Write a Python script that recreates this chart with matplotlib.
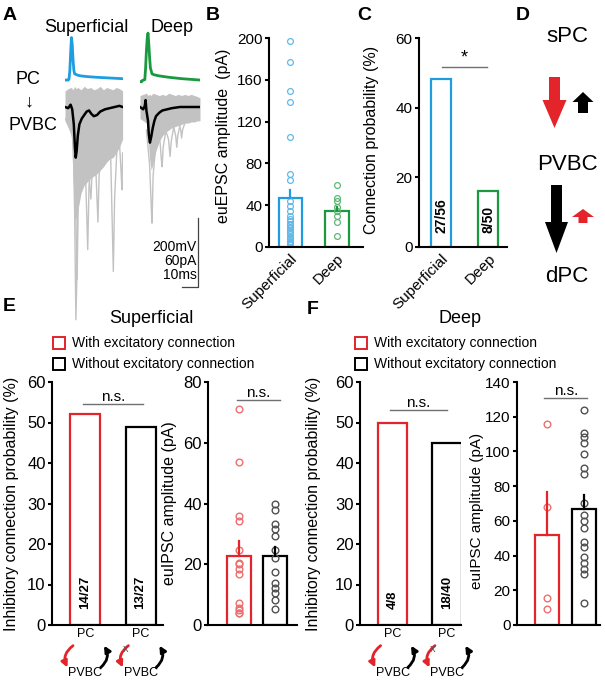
import matplotlib
matplotlib.use("Agg")
import matplotlib.pyplot as plt
from matplotlib import transforms
from matplotlib.patches import Rectangle

plt.rcParams['font.family'] = ['Liberation Sans', 'DejaVu Sans']

# ---------------- data ----------------
# panel A: example traces (time in ms, current in pA, voltage in mV)
sup_ap_t = [0, 2, 2.5, 3, 3.5, 4, 4.5, 5, 5.5, 6, 7, 8, 10, 14, 20, 28, 36]
sup_ap = [-68, -68, -65, -40, 10, 55, 35, -10, -40, -50, -52, -54, -56, -58, -60, -62, -64]
deep_ap_t = [0, 1, 1.5, 3, 3.5, 4, 4.5, 5, 5.5, 6, 6.5, 7.5, 9, 12, 18, 26, 37.5]
deep_ap = [-70, -70, -66, -64, -30, 20, 55, 71, 40, 0, -30, -47, -50, -53, -57, -61, -65]

sup_t = [0, 2, 4, 5, 6, 7, 8, 10, 12, 14, 16, 18, 20, 22, 24, 26, 28, 30, 32, 34, 36]
sup_upper = [14, 16, 17, 15, 18, 16, 17, 15, 18, 16, 17, 15, 16, 18, 15, 17, 16, 15, 17, 16, 14]
sup_lower = [-12, -18, -25, -60, -95, -98, -90, -75, -68, -65, -62, -60, -58, -55, -52,
             -48, -45, -44, -40, -35, -28]
sup_mean_t = [0, 2, 3.5, 4.5, 5.5, 6.2, 6.7, 7.3, 8, 9, 10.5, 12, 13.5, 15, 16.5, 18, 20,
              22, 25, 28, 31, 34, 36]
sup_mean = [0, -1, 2, -2, -15, -35, -44, -38, -25, -15, -10, -7, -4, -3, -6, -8, -7, -4,
            -2, -1, 0, 1, 0]
sup_sweeps = [
    ([0, 5, 6, 6.8, 7.4, 8.2, 10, 12], [-10, -20, -90, -185, -150, -60, -35, -30]),
    ([4, 6, 7, 7.6, 8.3, 10], [-20, -40, -110, -150, -70, -40]),
    ([10, 12.5, 13.5, 14.2, 15, 16.5], [-30, -40, -90, -124, -70, -40]),
    ([12, 14.5, 15.5, 16.2, 17, 18.5], [-35, -45, -70, -80, -55, -40]),
    ([17, 19, 20, 20.6, 21.3, 23], [-30, -45, -80, -100, -60, -35]),
    ([26, 28.5, 29.5, 30.2, 31, 32.5], [-25, -40, -100, -143, -80, -35]),
    ([32, 34, 35, 35.6, 36], [-25, -30, -55, -72, -40]),
]

deep_t = [0, 2, 4, 5, 6, 7, 8, 10, 12, 14, 16, 18, 20, 22, 24, 26, 28, 30, 32, 34, 36, 37.5]
deep_upper = [10, 11, 12, 10, 11, 10, 12, 11, 10, 11, 10, 12, 11, 10, 11, 10, 11, 10, 11, 10, 9, 8]
deep_lower = [-10, -12, -14, -25, -45, -55, -50, -38, -30, -25, -22, -20, -18, -17, -16,
              -15, -14, -14, -13, -13, -12, -12]
deep_mean_t = [0, 2, 3, 3.5, 4, 5, 5.5, 6.2, 7, 8, 9, 10, 12, 14, 17, 20, 25, 30, 37.5]
deep_mean = [0, -2, 1, 6, -3, -12, -24, -31, -26, -18, -12, -8, -5, -3, -2, -1, 0, 0, 0]
deep_sweeps = [
    ([4, 6, 7, 7.5, 8.2, 10], [-20, -50, -85, -101, -60, -30]),
    ([10, 12.5, 13.3, 13.8, 14.5, 16], [-25, -30, -45, -52, -35, -22]),
    ([16, 17.8, 18.8, 19.5, 21], [-20, -28, -43, -30, -18]),
    ([21, 22.3, 23, 23.6, 25], [-17, -25, -35, -25, -16]),
    ([24.5, 25.5, 26, 26.6, 28], [-16, -20, -27, -20, -14]),
]

# panel B: euEPSC amplitude (pA)
layers = ['Superficial', 'Deep']
epsc_sup = [197, 177, 149, 139, 105, 70, 64, 44, 39, 34, 30, 27, 25, 22, 21, 19, 18, 16,
            14, 12, 10, 9, 8, 6, 5, 4, 3]
epsc_deep = [59, 47, 44, 38, 34, 30, 24, 11]
epsc_mean = [47, 34]
epsc_sem = [8, 4]

# panel C: connection probability (%)
conn_prob = [48.2, 16.0]
conn_counts = ['27/56', '8/50']

# panel E: superficial
e_prob = [52, 49]
e_counts = ['14/27', '13/27']
e_amp_with = [71, 53.7, 36, 34.3, 24.7, 20.3, 20, 18.3, 16.8, 7.1, 5.5, 5, 4, 3.8]
e_amp_without = [40, 38, 33.2, 31.5, 29.4, 24.7, 21.9, 17.5, 13.7, 12.1, 10.4, 8.2, 5.2]
e_amp_mean = [22.6, 22.8]
e_amp_sem = [5.2, 3.0]

# panel F: deep
f_prob = [50, 45]
f_counts = ['4/8', '18/40']
f_amp_with = [116, 67.7, 15.4, 9.1]
f_amp_without = [123.7, 110.6, 108.4, 104.9, 98.8, 90.7, 86.9, 70.4, 63.3, 60, 55.6, 47.9,
                 45.1, 39.3, 35.9, 32.0, 29.3, 12.5]
f_amp_mean = [51.8, 67]
f_amp_sem = [24.9, 8]

BLUE = '#1f9de0'
BLUE_DOT = '#62b9ea'
GREEN = '#1a9a40'
GREEN_DOT = '#5cb874'
RED = '#e3242b'
RED_DOT = '#ec6f6f'
GRAY_DOT = '#505050'
TRACE_GRAY = '#c2c2c2'

W, H = 605, 681
fig = plt.figure(figsize=(W / 100, H / 100), dpi=100)


def px_axes(left, top, right, bottom):
    return fig.add_axes([left / W, 1 - bottom / H, (right - left) / W, (bottom - top) / H])


def fig_text(x, y, s, **kw):
    fig.text(x / W, 1 - y / H, s, **kw)


def style_axes(ax, size):
    for s in ['top', 'right']:
        ax.spines[s].set_visible(False)
    for s in ['left', 'bottom']:
        ax.spines[s].set_linewidth(1.5)
    ax.tick_params(axis='y', direction='out', length=3, width=1.5, pad=1.5, labelsize=size)
    ax.tick_params(axis='x', length=0, labelsize=size)


def sig_line(ax, x0, x1, y, label, size):
    ax.plot([x0, x1], [y, y], color='#707070', lw=1, clip_on=False)
    ax.text((x0 + x1) / 2, y, label, ha='center', va='bottom', fontsize=size)


# ---------------- panel A ----------------
ax = px_axes(65, 29, 123, 82.5)
ax.plot(sup_ap_t, sup_ap, color=BLUE, lw=2)
ax.set_xlim(0, 36)
ax.set_ylim(-75, 80)
ax.axis('off')

ax = px_axes(140, 30, 200, 83.5)
ax.plot(deep_ap_t, deep_ap, color=GREEN, lw=2)
ax.set_xlim(0, 37.5)
ax.set_ylim(-75, 80)
ax.axis('off')

ax = px_axes(65, 84, 122.6, 325.5)
ax.fill_between(sup_t, sup_lower, sup_upper, color=TRACE_GRAY, lw=0)
for t, y in sup_sweeps:
    ax.plot(t, y, color=TRACE_GRAY, lw=1)
ax.plot(sup_mean_t, sup_mean, color='black', lw=1.8)
ax.set_xlim(0, 36)
ax.set_ylim(-190, 20)
ax.axis('off')

ax = px_axes(140, 84, 200, 325.5)
ax.fill_between(deep_t, deep_lower, deep_upper, color=TRACE_GRAY, lw=0)
for t, y in deep_sweeps:
    ax.plot(t, y, color=TRACE_GRAY, lw=1)
ax.plot(deep_mean_t, deep_mean, color='black', lw=1.8)
ax.set_xlim(0, 37.5)
ax.set_ylim(-190, 20)
ax.axis('off')
# scale bar: 60 pA, 10 ms
ax.plot([36.25, 36.25, 26.25], [-96.5, -156.5, -156.5], color='#444444', lw=0.9, clip_on=False)
for yy, s in zip([-122, -134, -146], ['200mV', '60pA', '10ms']):
    ax.text(35.6, yy, s, ha='right', va='center', fontsize=10)

fig_text(86, 27, 'Superficial', ha='center', va='center', fontsize=13)
fig_text(172, 27, 'Deep', ha='center', va='center', fontsize=13)
fig_text(28, 80, 'PC', ha='center', va='center', fontsize=13)
fig_text(29, 102, '\u2193', ha='center', va='center', fontsize=13)
fig_text(33, 125, 'PVBC', ha='center', va='center', fontsize=13)

# ---------------- panel B ----------------
ax = px_axes(269, 38, 363, 247)
style_axes(ax, 11)
ax.bar([0, 1], epsc_mean, width=0.5, facecolor='none', edgecolor=[BLUE, GREEN], lw=1.6)
ax.plot([0] * len(epsc_sup), epsc_sup, 'o', mfc='none', mec=BLUE_DOT, ms=4.2, mew=0.9)
ax.plot([1] * len(epsc_deep), epsc_deep, 'o', mfc='none', mec=GREEN_DOT, ms=4.2, mew=0.9)
for i, c in enumerate([BLUE, GREEN]):
    ax.plot([i, i], [epsc_mean[i], epsc_mean[i] + epsc_sem[i]], color=c, lw=1.6)
ax.set_xlim(-0.46, 1.56)
ax.set_ylim(0, 200)
ax.set_yticks([0, 40, 80, 120, 160, 200])
ax.set_xticks([0, 1])
ax.set_xticklabels(layers, rotation=45, ha='right', rotation_mode='anchor')
ax.set_ylabel('euEPSC amplitude  (pA)', fontsize=11.5)
ax.yaxis.set_label_coords(-0.40, 0.53)

# ---------------- panel C ----------------
ax = px_axes(419, 38, 507, 247)
style_axes(ax, 11)
ax.bar([0, 1], conn_prob, width=0.43, facecolor='none', edgecolor=[BLUE, GREEN], lw=1.6)
for i, s in enumerate(conn_counts):
    ax.text(i, 4, s, rotation=90, ha='center', va='bottom', fontsize=10, fontweight='bold')
sig_line(ax, 0.02, 0.98, 51.7, '*', 13)
ax.set_xlim(-0.47, 1.40)
ax.set_ylim(0, 60)
ax.set_yticks([0, 20, 40, 60])
ax.set_xticks([0, 1])
ax.set_xticklabels(layers, rotation=45, ha='right', rotation_mode='anchor')
ax.set_ylabel('Connection probability (%)', fontsize=11.5)
ax.yaxis.set_label_coords(-0.45, 0.51)

# ---------------- panel D ----------------
ax = px_axes(510, 20, 605, 290)
ax.set_xlim(510, 605)
ax.set_ylim(290, 20)
ax.axis('off')
ax.arrow(554.5, 77, 0, 51, width=11, head_width=24, head_length=28,
         length_includes_head=True, color=RED, lw=0)
ax.arrow(583, 113, 0, -21, width=10, head_width=21, head_length=10,
         length_includes_head=True, color='black', lw=0)
ax.arrow(556.5, 185, 0, 68, width=11, head_width=23, head_length=31,
         length_includes_head=True, color='black', lw=0)
ax.arrow(583, 223, 0, -14, width=9, head_width=22, head_length=8,
         length_includes_head=True, color=RED, lw=0)
ax.text(567, 37, 'sPC', ha='center', va='center', fontsize=16)
ax.text(567, 165, 'PVBC', ha='center', va='center', fontsize=16)
ax.text(567, 277, 'dPC', ha='center', va='center', fontsize=16)


# ---------------- panels E / F ----------------
def prob_panel(rect, xlim, probs, counts, ns_x, ns_y):
    ax = px_axes(*rect)
    style_axes(ax, 12)
    ax.bar([0, 1], probs, width=0.54, facecolor='none', edgecolor=[RED, 'black'], lw=1.6)
    for i, s in enumerate(counts):
        ax.text(i, 4, s, rotation=90, ha='center', va='bottom', fontsize=9.5, fontweight='bold')
    sig_line(ax, ns_x[0], ns_x[1], ns_y, 'n.s.', 11)
    ax.set_xlim(*xlim)
    ax.set_ylim(0, 60)
    ax.set_yticks([0, 10, 20, 30, 40, 50, 60])
    ax.set_xticks([0, 1])
    ax.set_xticklabels(['PC', 'PC'], fontsize=9)
    ax.tick_params(axis='x', pad=2)
    ax.set_ylabel('Inhibitory connection probability (%)', fontsize=11.5)
    # connection icons under each bar
    tr = transforms.blended_transform_factory(ax.transData, ax.transAxes)
    for i in [0, 1]:
        ax.annotate('', xy=(i - 0.32, -0.175), xytext=(i - 0.22, -0.085), xycoords=tr,
                    textcoords=tr, annotation_clip=False,
                    arrowprops=dict(arrowstyle='-|>', color=RED, lw=2,
                                    connectionstyle='arc3,rad=0.4', mutation_scale=9,
                                    shrinkA=0, shrinkB=0))
        ax.annotate('', xy=(i + 0.34, -0.085), xytext=(i + 0.28, -0.175), xycoords=tr,
                    textcoords=tr, annotation_clip=False,
                    arrowprops=dict(arrowstyle='-|>', color='black', lw=2,
                                    connectionstyle='arc3,rad=0.4', mutation_scale=9,
                                    shrinkA=0, shrinkB=0))
        ax.text(i, -0.198, 'PVBC', transform=tr, ha='center', va='center', fontsize=9)
    ax.text(1 - 0.27, -0.1, 'x', transform=tr, ha='center', va='center', fontsize=8,
            color='#555555')
    return ax


def amp_panel(rect, xlim, ymax, yticks, with_vals, without_vals, means, sems, ns_x, ns_y,
              size=12):
    ax = px_axes(*rect)
    style_axes(ax, size)
    ax.bar([0, 1], means, width=0.66, facecolor='none', edgecolor=[RED, 'black'], lw=1.6)
    ax.plot([0] * len(with_vals), with_vals, 'o', mfc='none', mec=RED_DOT, ms=4.8, mew=1)
    ax.plot([1] * len(without_vals), without_vals, 'o', mfc='none', mec=GRAY_DOT, ms=4.8, mew=1)
    for i, c in enumerate([RED, 'black']):
        ax.plot([i, i], [means[i], means[i] + sems[i]], color=c, lw=1.6)
    sig_line(ax, ns_x[0], ns_x[1], ns_y, 'n.s.', 11)
    ax.set_xlim(*xlim)
    ax.set_ylim(0, ymax)
    ax.set_yticks(yticks)
    ax.set_xticks([])
    ax.set_ylabel('euIPSC amplitude (pA)', fontsize=11.5)
    return ax


ax = prob_panel((52, 382, 163, 625), (-0.6, 1.405), e_prob, e_counts, (-0.04, 1.05), 54.6)
ax.yaxis.set_label_coords(-0.30, 0.5)
ax = amp_panel((208, 382, 297, 625), (-0.86, 1.61), 80, [0, 20, 40, 60, 80],
               e_amp_with, e_amp_without, e_amp_mean, e_amp_sem, (-0.06, 1.14), 74)
ax.yaxis.set_label_coords(-0.35, 0.5)
ax = prob_panel((360, 382, 461, 625), (-0.6, 1.26), f_prob, f_counts, (-0.05, 1.0), 53)
ax.yaxis.set_label_coords(-0.39, 0.5)
ax = amp_panel((517, 382, 600, 625), (-0.82, 1.43), 140, [0, 20, 40, 60, 80, 100, 120, 140],
               f_amp_with, f_amp_without, f_amp_mean, f_amp_sem, (-0.08, 1.08), 130.6,
               size=11)
ax.set_ylabel('euIPSC amplitude (pA)', fontsize=11)
ax.yaxis.set_label_coords(-0.40, 0.47)

# titles and legends
fig_text(151, 318, 'Superficial', ha='center', va='center', fontsize=13)
fig_text(460, 318, 'Deep', ha='center', va='center', fontsize=13)
for x0 in [53, 355]:
    for yc, ec, s in [(342.5, RED, 'With excitatory connection'),
                      (364, 'black', 'Without excitatory connection')]:
        fig.add_artist(Rectangle((x0 / W, 1 - (yc + 6) / H), 12 / W, 12 / H,
                                 transform=fig.transFigure, facecolor='none',
                                 edgecolor=ec, lw=1.4))
        fig_text(x0 + 19, yc, s, ha='left', va='center', fontsize=10)

# panel letters
for x, y, s in [(10, 15, 'A'), (213, 15, 'B'), (364, 15, 'C'), (523, 15, 'D'),
                (9, 307, 'E'), (313, 310, 'F')]:
    fig_text(x, y, s, ha='center', va='center', fontsize=14, fontweight='bold')

fig.savefig('out.png', dpi=100)
